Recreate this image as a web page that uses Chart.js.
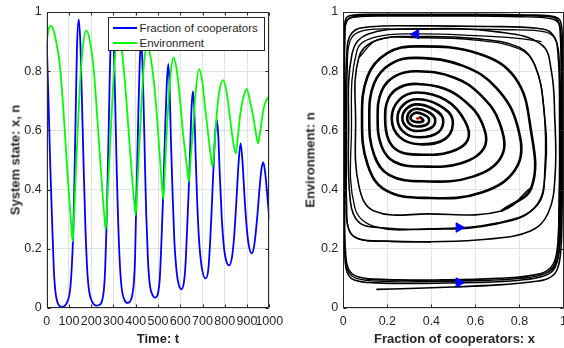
<!DOCTYPE html>
<html><head><meta charset="utf-8">
<script src="https://cdn.jsdelivr.net/npm/chart.js@4.4.1/dist/chart.umd.min.js"></script>
<style>
html,body{margin:0;padding:0;background:#fff;overflow:hidden;}
#wrap{position:relative;width:564px;height:348px;overflow:hidden;background:#fff;}
canvas{position:absolute;top:0;}
#c1{left:0;z-index:1;}
#c2{left:280px;z-index:2;}
.ov{position:absolute;z-index:5;font-family:"Liberation Sans",Arial,Helvetica,sans-serif;color:#262626;white-space:nowrap;}
.title{font-weight:bold;font-size:13px;transform:translate(-50%,-50%);}
.vt{transform:translate(-50%,-50%) rotate(-90deg);}
#legend{left:107.5px;top:16.5px;width:157px;height:34px;border:1px solid #262626;background:#fff;box-sizing:border-box;}
.lline{position:absolute;height:2px;width:24px;}
.ltext{position:absolute;font-size:11.5px;line-height:14px;}
</style></head>
<body><div id="wrap">
<canvas id="c1" width="300" height="348"></canvas>
<canvas id="c2" width="290" height="348"></canvas>
<div class="ov title vt" style="left:15px;top:160px;">System state: x, n</div>
<div class="ov title" style="left:158px;top:338px;">Time: t</div>
<div class="ov title vt" style="left:310px;top:160px;">Environment: n</div>
<div class="ov title" style="left:454.5px;top:338px;">Fraction of cooperators: x</div>
<div class="ov" id="legend">
  <div class="lline" style="left:4.5px;top:9px;background:#0000ff;"></div>
  <div class="ltext" style="left:31px;top:3px;">Fraction of cooperators</div>
  <div class="lline" style="left:4.5px;top:24px;background:#00ff00;"></div>
  <div class="ltext" style="left:31px;top:18px;">Environment</div>
</div>
</div>
<script>
// ---------- data ----------
const timeTicks = [0,100,200,300,400,500,600,700,800,900,1000];
const stateTicks = [0,0.2,0.4,0.6,0.8,1];
const fracTicks = [0,0.2,0.4,0.6,0.8,1];

// time series: [t, value]
const fracCoop = [[0,0.90],[8,0.70],[16,0.48],[24,0.30],[32,0.13],[40,0.05],[50,0.016],[66,0.004],[82,0.008],[95,0.025],[105,0.06],[112,0.13],[119,0.25],[125,0.45],[130,0.65],[136,0.88],[144,0.975],[152,0.88],[160,0.65],[167,0.45],[174,0.27],[182,0.13],[190,0.06],[205,0.02],[224,0.008],[242,0.013],[252,0.035],[258,0.07],[263,0.14],[268,0.26],[274,0.45],[280,0.66],[286,0.87],[294,0.955],[302,0.87],[309,0.65],[315,0.45],[322,0.27],[330,0.13],[338,0.06],[348,0.03],[361,0.017],[374,0.022],[385,0.045],[392,0.09],[397,0.17],[401,0.31],[407,0.50],[413,0.70],[418,0.83],[424,0.905],[430,0.83],[435,0.70],[441,0.50],[447,0.32],[455,0.16],[463,0.08],[473,0.048],[487,0.035],[500,0.05],[508,0.10],[516,0.235],[524,0.40],[532,0.60],[539,0.75],[546,0.825],[552,0.75],[558,0.57],[565,0.40],[573,0.235],[584,0.12],[593,0.08],[605,0.063],[617,0.09],[623,0.14],[629,0.235],[637,0.38],[645,0.55],[651,0.68],[657,0.732],[663,0.67],[669,0.517],[676,0.36],[684,0.235],[696,0.14],[714,0.10],[726,0.13],[734,0.22],[741,0.33],[749,0.47],[757,0.59],[764,0.636],[771,0.58],[777,0.46],[786,0.31],[797,0.2],[807,0.158],[820,0.144],[832,0.17],[842,0.24],[852,0.36],[862,0.49],[871,0.556],[880,0.49],[890,0.36],[900,0.26],[910,0.203],[921,0.185],[932,0.21],[945,0.30],[958,0.42],[966,0.475],[973,0.492],[981,0.46],[990,0.39],[1000,0.30]];
const environment = [[0,0.90],[8,0.94],[18,0.953],[30,0.94],[45,0.89],[60,0.815],[72,0.70],[82,0.59],[92,0.47],[102,0.365],[110,0.28],[117,0.224],[124,0.33],[132,0.477],[141,0.63],[150,0.76],[162,0.88],[177,0.937],[192,0.91],[210,0.815],[222,0.70],[232,0.59],[242,0.48],[251,0.387],[259,0.31],[265,0.264],[272,0.36],[280,0.477],[290,0.63],[299,0.76],[310,0.875],[322,0.915],[336,0.88],[352,0.76],[364,0.64],[374,0.534],[385,0.43],[393,0.36],[400,0.314],[407,0.41],[415,0.534],[423,0.65],[431,0.76],[440,0.85],[452,0.885],[466,0.85],[482,0.76],[495,0.65],[506,0.534],[515,0.44],[524,0.368],[531,0.47],[539,0.59],[548,0.71],[558,0.80],[569,0.847],[583,0.81],[599,0.703],[611,0.60],[621,0.534],[631,0.47],[639,0.427],[647,0.51],[656,0.59],[668,0.72],[684,0.807],[698,0.77],[711,0.68],[725,0.59],[736,0.52],[745,0.477],[754,0.55],[763,0.646],[775,0.73],[793,0.770],[808,0.73],[823,0.646],[836,0.57],[850,0.522],[859,0.58],[868,0.646],[880,0.70],[898,0.740],[913,0.70],[928,0.646],[940,0.59],[950,0.556],[960,0.60],[973,0.669],[988,0.705],[1000,0.714]];

// phase plane trajectories: [x, n]
const innerSpiral = [
[.718,.328],[.855,.408],[.850,.610],
[.781,.777],[.612,.860],[.335,.884],[.198,.860],[.110,.782],[.085,.635],[.110,.485],[.190,.399],[.370,.372],[.632,.391],[.790,.479],
[.791,.615],[.696,.743],[.544,.818],[.335,.845],[.216,.825],[.140,.759],[.118,.640],[.140,.517],[.209,.449],[.365,.428],[.585,.443],[.719,.513],
[.710,.625],[.623,.720],[.502,.779],[.335,.800],[.237,.784],[.174,.733],[.156,.640],[.174,.546],[.231,.494],[.355,.478],[.535,.489],[.641,.543],
[.627,.630],[.552,.699],[.460,.741],[.335,.757],[.255,.745],[.205,.708],[.190,.640],[.205,.569],[.251,.530],[.345,.518],[.485,.527],[.565,.567],
[.552,.632],[.466,.702],[.335,.728],[.254,.703],[.220,.641],[.254,.579],[.345,.553],[.466,.573],
[.496,.638],[.432,.686],[.335,.705],[.272,.686],[.246,.641],[.272,.596],[.340,.577],[.432,.594],
[.452,.641],[.404,.674],[.335,.688],[.288,.674],[.268,.641],[.288,.611],[.335,.598],[.404,.611],
[.416,.641],[.381,.664],[.335,.673],[.303,.664],[.290,.641],[.303,.621],[.335,.613],[.381,.621],
[.388,.641],[.363,.654],[.335,.660],[.314,.654],[.305,.641],[.314,.632],[.335,.628],[.363,.632],
[.355,.641],[.345,.646]];
const trajFromTop = [[.900,.900],[.780,.912],[.600,.920],[.348,.926],[.150,.916],[.062,.870],[.037,.597],[.052,.340],[.144,.275],[.392,.268],[.703,.288],[.881,.347],[.915,.470],[.910,.680],[.870,.820],[.800,.875],[.600,.905],[.345,.913],[.154,.905],[.070,.845]];
const trajFromBottom = [[.150,.063],[.300,.066],[.500,.071],[.700,.078],[.850,.088],[.930,.100],[.968,.125],[.986,.180],[.993,.300],[.995,.600],[.994,.880],[.988,.965],[.960,.984],[.850,.990],[.500,.992],[.150,.992],[.040,.989],[.012,.978],[.005,.930],[.003,.600],[.004,.300],[.007,.180],[.018,.120],[.050,.095],[.150,.085],[.350,.083],[.600,.086],[.800,.094],[.910,.108],[.960,.135],[.980,.200],[.988,.400],[.989,.750],[.985,.930],[.970,.975],[.900,.986],[.600,.989],[.300,.989],[.080,.987],[.020,.975],[.007,.920],[.005,.600],[.006,.300],[.010,.190],[.025,.130],[.070,.105],[.200,.096],[.450,.095],[.700,.100],[.870,.112],[.940,.135],[.970,.190],[.980,.350],[.982,.650],[.975,.860],[.950,.925],[.880,.945],[.650,.951],[.350,.953],[.120,.950],[.040,.930],[.016,.860],[.012,.600],[.014,.350],[.025,.265],[.070,.234],[.200,.226],[.398,.224],[.650,.232],[.850,.260],[.930,.320],[.962,.450],[.960,.650],[.945,.800],[.900,.890],[.700,.933],[.350,.943],[.110,.925],[.040,.860],[.024,.600],[.032,.360],[.070,.290],[.160,.272],[.392,.266],[.690,.283],[.870,.340],[.918,.470],[.910,.680],[.870,.820],[.800,.880],[.600,.910],[.345,.917],[.154,.905],[.070,.845],[.056,.630],[.070,.415],[.140,.328],[.386,.318],[.718,.328],[.855,.408]];
const trajFromCorner = [[.105,.098],[.250,.094],[.500,.092],[.750,.097],[.880,.108],[.945,.128],[.975,.170],[.988,.300],[.991,.600],[.990,.880],[.980,.958],[.940,.978],[.800,.984],[.500,.986],[.200,.986],[.060,.983],[.016,.970],[.006,.900],[.004,.600],[.005,.300],[.009,.180],[.022,.125],[.060,.100],[.180,.090],[.400,.089],[.650,.093],[.840,.103],[.925,.120],[.965,.160],[.978,.280],[.984,.600],[.981,.830],[.965,.905],[.920,.932],[.750,.940],[.500,.942],[.250,.942],[.090,.937],[.032,.905],[.018,.800],[.015,.600],[.015,.350],[.026,.263],[.070,.233],[.200,.225],[.398,.223]];
const arrowPoints = [[.330,.925],[.525,.272],[.525,.086]];
const arrowAngles = [-90, 90, 90];
const fixedPoint = [[.338,.641]];

// ---------- drawing ----------
const FONT = '"Liberation Sans", Arial, Helvetica, sans-serif';
const INK = '#262626';
const GRID = '#e2e2e2';
const xy = arr => arr.map(p => ({x:p[0], y:p[1]}));

const framePlugin = {
  id:'frame',
  afterDatasetsDraw(chart){
    const {ctx, chartArea:a, scales} = chart;
    ctx.save();
    ctx.strokeStyle = INK; ctx.lineWidth = 1;
    const L = Math.round(a.left)+0.5, R = Math.round(a.right)-0.5, T = Math.round(a.top)+0.5, B = Math.round(a.bottom)-0.5;
    ctx.beginPath();
    ctx.rect(L, T, R-L, B-T);
    const tl = 3;
    scales.x.ticks.forEach(t => {
      const px = Math.round(scales.x.getPixelForValue(t.value))+0.5;
      ctx.moveTo(px,B); ctx.lineTo(px,B-tl); ctx.moveTo(px,T); ctx.lineTo(px,T+tl);
    });
    scales.y.ticks.forEach(t => {
      const py = Math.round(scales.y.getPixelForValue(t.value))+0.5;
      ctx.moveTo(L,py); ctx.lineTo(L+tl,py); ctx.moveTo(R,py); ctx.lineTo(R-tl,py);
    });
    ctx.stroke();
    ctx.restore();
  }
};

function axis(min, max, ticks, isX, fitSize){
  return {
    type:'linear', min, max,
    afterBuildTicks: s => { s.ticks = ticks.map(v => ({value:v})); },
    afterFit: s => {
      if (isX) { s.height = fitSize; } else { s.width = fitSize; }
      s.paddingLeft = 0; s.paddingRight = 0; s.paddingTop = 0; s.paddingBottom = 0;
    },
    grid:{color:GRID, drawTicks:false, lineWidth:1},
    border:{display:false},
    ticks:{autoSkip:false, maxRotation:0, minRotation:0, padding: isX ? 6 : 5, color:INK,
      font:{family:FONT, size:12.5}, callback: v => String(v)}
  };
}

const common = {
  responsive:false, animation:false, devicePixelRatio:1,
  plugins:{legend:{display:false}, tooltip:{enabled:false}},
  elements:{point:{radius:0}}
};

new Chart(document.getElementById('c1'), {
  type:'line',
  data:{datasets:[
    {label:'Fraction of cooperators', data:xy(fracCoop), borderColor:'#0000ff', borderWidth:1.8, pointRadius:0, cubicInterpolationMode:'monotone', order:1},
    {label:'Environment', data:xy(environment), borderColor:'#00ff00', borderWidth:1.8, pointRadius:0, cubicInterpolationMode:'monotone', order:0}
  ]},
  options:Object.assign({}, common, {
    layout:{padding:{left:0, top:12, right:30.7, bottom:0}},
    scales:{ x:axis(0,1000,timeTicks,true,40), y:axis(0,1,stateTicks,false,46.7) }
  }),
  plugins:[framePlugin]
});

const lineDs = (data, w) => ({data:xy(data), showLine:true, borderColor:'#000', borderWidth:w, pointRadius:0, tension:0.4, fill:false, order:3});

new Chart(document.getElementById('c2'), {
  type:'scatter',
  data:{datasets:[
    lineDs(trajFromBottom, 1.6),
    lineDs(trajFromCorner, 1.3),
    lineDs(trajFromTop, 1.3),
    lineDs(innerSpiral, 2.6),
    {data:xy(arrowPoints), showLine:false, pointStyle:'triangle', pointRadius:5.5, rotation:arrowAngles, backgroundColor:'#0000ff', borderColor:'#0000ff', borderWidth:1, order:1},
    {data:xy(fixedPoint), showLine:false, pointStyle:'circle', pointRadius:1.6, backgroundColor:'#ff0000', borderColor:'#ff0000', borderWidth:0, order:0}
  ]},
  options:Object.assign({}, common, {
    layout:{padding:{left:0, top:12, right:4.6, bottom:0}},
    scales:{ x:axis(0,1,fracTicks,true,40), y:axis(0,1,stateTicks,false,63.3) }
  }),
  plugins:[framePlugin]
});
</script>
</body></html>
